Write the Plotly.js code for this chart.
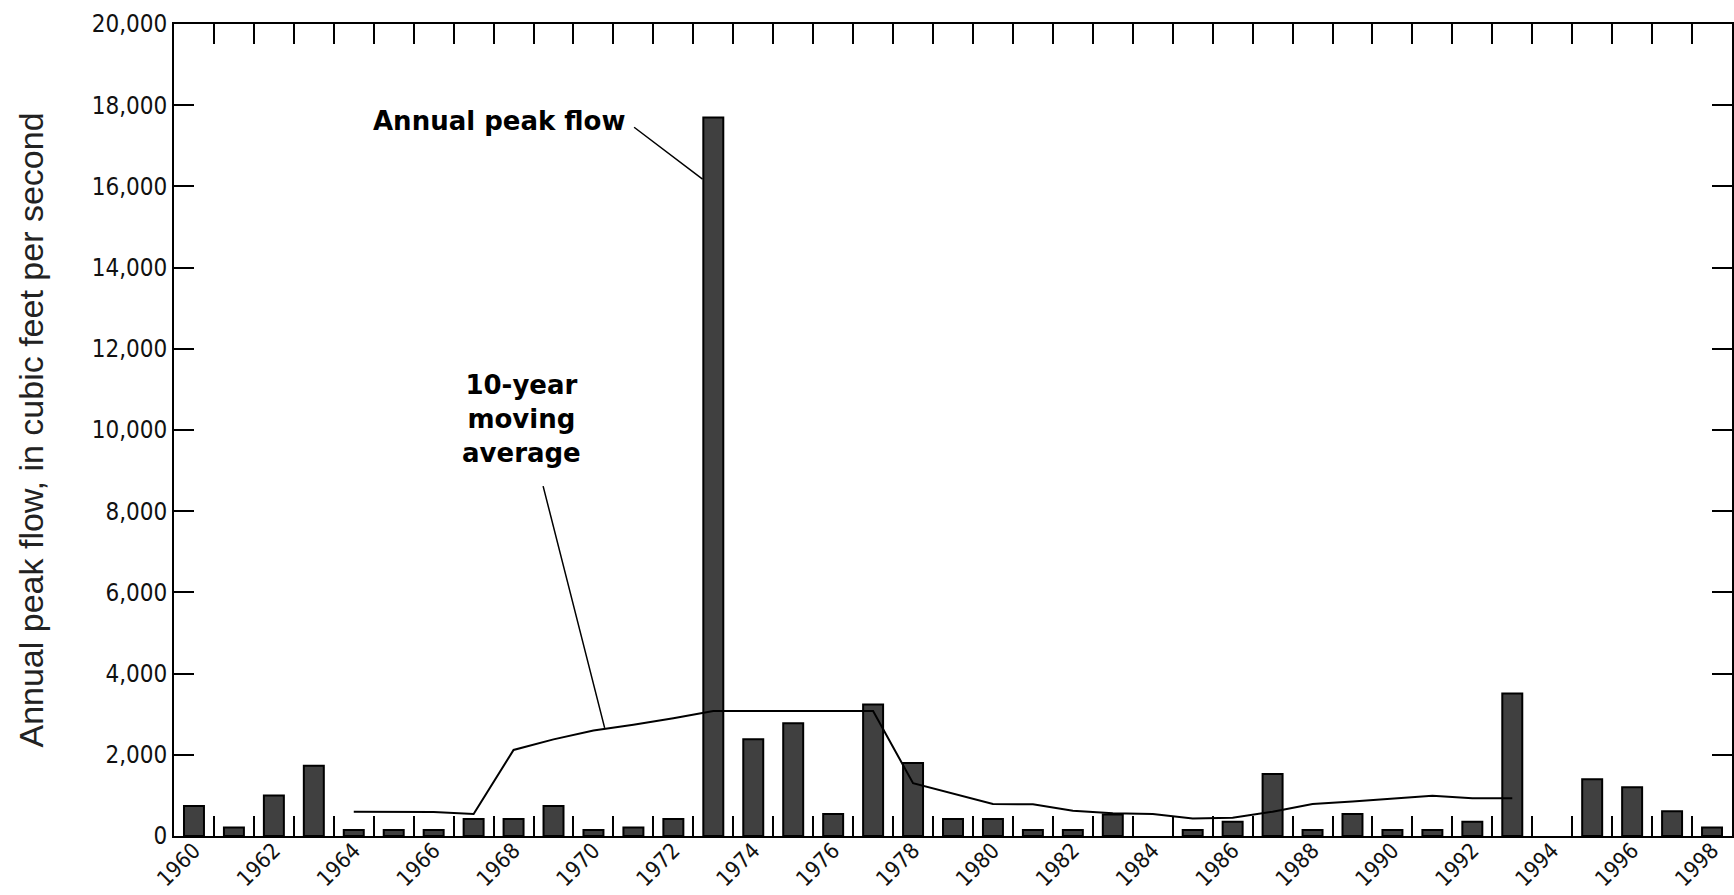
<!DOCTYPE html>
<html>
<head>
<meta charset="utf-8">
<script src="https://cdn.plot.ly/plotly-3.0.1.min.js"></script>
<style>html,body{margin:0;padding:0;background:#fff;}#chart{width:1734px;height:895px;}</style>
</head>
<body>
<div id="chart"></div>
<script>
// Annual peak flow (cubic feet per second); null = no record
const years = [1960,1961,1962,1963,1964,1965,1966,1967,1968,1969,1970,1971,1972,1973,1974,1975,1976,1977,1978,1979,
               1980,1981,1982,1983,1984,1985,1986,1987,1988,1989,1990,1991,1992,1993,1994,1995,1996,1997,1998];
const peakFlow = [740,210,1000,1730,150,150,150,420,420,740,150,210,420,17700,2380,2780,540,3240,1800,420,
                  420,150,150,530,null,150,350,1530,150,540,150,150,350,3510,null,1400,1200,610,210];

// 10-year moving average
const maYears = [1964,1965,1966,1967,1968,1969,1970,1971,1972,1973,1974,1975,1976,1977,1978,1979,1980,1981,1982,1983,
                 1984,1985,1986,1987,1988,1989,1990,1991,1992,1993];
const maValues = [600,600,590,540,2120,2380,2600,2740,2900,3080,3080,3080,3080,3080,1300,1050,790,780,620,560,
                  540,430,450,600,790,850,920,990,930,930];

// axis ticks and labels
const xLabelYears = [1960,1962,1964,1966,1968,1970,1972,1974,1976,1978,1980,1982,1984,1986,1988,1990,1992,1994,1996,1998];
const xLabelText = xLabelYears.map(String);
const yTickVals = [0,2000,4000,6000,8000,10000,12000,14000,16000,18000,20000];
const yTickText = ["0","2,000","4,000","6,000","8,000","10,000","12,000","14,000","16,000","18,000","20,000"];

const boundaries = years.slice(1).map(y => y - 0.5);

const yTickFont = {family: "DejaVu Sans Condensed, sans-serif", size: 24, color: "#111"};
const xTickFont = {family: "DejaVu Sans Condensed, sans-serif", size: 22, color: "#111"};
const labelFont = {family: "DejaVu Sans, sans-serif", size: 26, color: "#000", weight: "bold"};

const traces = [
  {
    type: "bar", x: years, y: peakFlow, width: 0.5,
    marker: {color: "#404040", line: {color: "#000", width: 2}},
    hoverinfo: "x+y", showlegend: false
  },
  {
    type: "scatter", mode: "lines", x: maYears, y: maValues,
    line: {color: "#000", width: 2}, showlegend: false
  }
];

const layout = {
  width: 1734, height: 895,
  margin: {l: 174, r: 2, t: 24, b: 59},
  paper_bgcolor: "#fff", plot_bgcolor: "#fff",
  showlegend: false,
  xaxis: {
    range: [1959.5, 1998.5],
    tickmode: "array", tickvals: xLabelYears, ticktext: xLabelText,
    tickangle: -45, tickfont: xTickFont, ticklabelstandoff: -9,
    ticks: "inside", ticklen: 0,
    minor: {tickmode: "array", tickvals: boundaries, ticks: "inside", ticklen: 20, tickwidth: 2, tickcolor: "#000"},
    showline: true, linecolor: "#000", linewidth: 2, mirror: "ticks",
    showgrid: false, zeroline: false, fixedrange: true
  },
  yaxis: {
    range: [0, 20000],
    tickmode: "array", tickvals: yTickVals, ticktext: yTickText,
    ticks: "inside", ticklen: 20, tickwidth: 2, tickcolor: "#000",
    tickfont: yTickFont,
    showline: true, linecolor: "#000", linewidth: 2, mirror: "ticks",
    showgrid: false, zeroline: false, fixedrange: true,
    title: {text: "Annual peak flow, in cubic feet per second",
            font: {family: "Liberation Sans, Arial, sans-serif", size: 34, color: "#222"}, standoff: 38}
  },
  annotations: [
    {xref: "x", yref: "y", x: 1967.63, y: 17608, text: "Annual peak flow", showarrow: false, font: labelFont},
    {xref: "x", yref: "y", x: 1968.21, y: 10259, text: "10-year<br>moving<br>average", showarrow: false, font: labelFont, align: "center"},
    {xref: "x", yref: "y", axref: "x", ayref: "y", x: 1972.73, y: 16178, ax: 1970.98, ay: 17485,
     text: "", showarrow: true, arrowhead: 0, arrowwidth: 1.5, arrowcolor: "#000", standoff: 0, startstandoff: 0},
    {xref: "x", yref: "y", axref: "x", ayref: "y", x: 1970.28, y: 2663, ax: 1968.73, ay: 8656,
     text: "", showarrow: true, arrowhead: 0, arrowwidth: 1.5, arrowcolor: "#000", standoff: 0, startstandoff: 0}
  ]
};

Plotly.newPlot("chart", traces, layout, {displayModeBar: false, staticPlot: true});
</script>
</body>
</html>
